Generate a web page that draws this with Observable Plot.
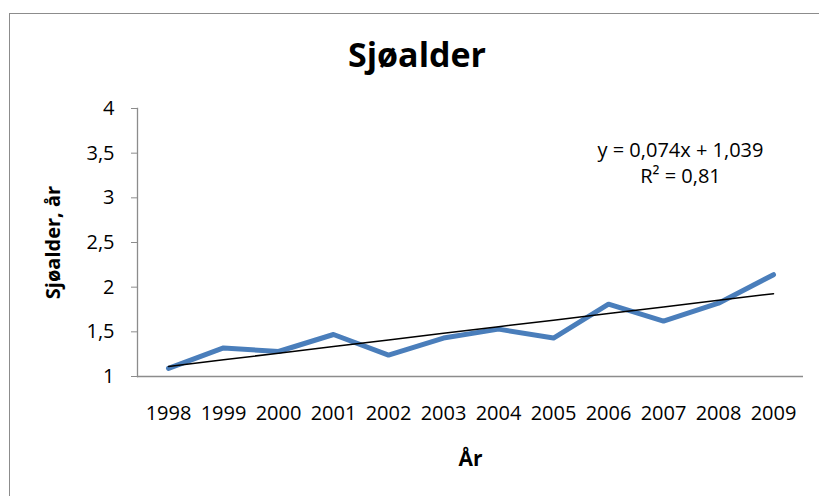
<!DOCTYPE html>
<html>
<head>
<meta charset="utf-8">
<script src="https://cdn.jsdelivr.net/npm/d3@7"></script>
<script src="https://cdn.jsdelivr.net/npm/@observablehq/plot@0.6"></script>
<style>
  html, body { margin: 0; padding: 0; background: #fff; overflow: hidden; }
  #wrap { position: relative; width: 819px; height: 496px; }
  #border { position: absolute; left: 9px; top: 13px; width: 900px; height: 600px; border: 1px solid #8c8c8c; box-sizing: border-box; }
  #title { position: absolute; left: 0; top: 32px; width: 834px; text-align: center; font-family: "Open Sans", sans-serif; font-weight: 700; font-size: 34px; color: #000; line-height: 1.3; }
  #chart { position: absolute; left: 0; top: 0; }
</style>
</head>
<body>
<div id="wrap">
  <div id="border"></div>
  <div id="title">Sjøalder</div>
  <div id="chart"></div>
</div>
<script>
const years = ["1998","1999","2000","2001","2002","2003","2004","2005","2006","2007","2008","2009"];
const values = [1.09, 1.32, 1.28, 1.47, 1.24, 1.43, 1.53, 1.43, 1.81, 1.62, 1.82, 2.14];
const trendSlope = 0.074;
const trendIntercept = 1.039;
const trendR2 = 0.81;
const yTicks = [1, 1.5, 2, 2.5, 3, 3.5, 4];
const yLabel = "Sjøalder, år";
const xLabel = "År";

const fmt = d => String(d).replace(".", ",");
const data = years.map((y, i) => ({year: y, value: values[i]}));
const trend = years.map((y, i) => ({year: y, value: trendIntercept + trendSlope * (i + 1)}));
const eqText = `y = ${fmt(trendSlope)}x + ${fmt(trendIntercept)}\nR² = ${fmt(trendR2)}`;

const axisColor = "#8c8c8c";
const font = "'Open Sans', sans-serif";

const chart = Plot.plot({
  width: 819,
  height: 496,
  marginLeft: 137,
  marginRight: 16,
  marginTop: 108,
  marginBottom: 120,
  style: {fontFamily: font, fontSize: "20px", color: "#000", background: "transparent", overflow: "visible"},
  x: {type: "point", domain: years, padding: 0.5, axis: null},
  y: {domain: [1, 4], axis: null},
  marks: [
    Plot.ruleY([1], {stroke: axisColor, strokeWidth: 1.3}),
    Plot.frame({anchor: "left", stroke: axisColor, strokeWidth: 1.3}),
    Plot.axisY(yTicks, {
      tickSize: 6, tickPadding: 17, tickFormat: fmt, stroke: axisColor,
      fill: "#000", fontSize: 20, label: null
    }),
    Plot.axisX(years, {
      tickSize: 0, tickPadding: 29, fill: "#000", fontSize: 20, label: null
    }),
    Plot.line(data, {x: "year", y: "value", stroke: "#4a7ebb", strokeWidth: 5, strokeLinejoin: "round", strokeLinecap: "round"}),
    Plot.line(trend, {x: "year", y: "value", stroke: "#000", strokeWidth: 1.5}),
    Plot.text([eqText], {
      frameAnchor: "top-right", dx: -123, dy: 30, textAnchor: "middle", lineAnchor: "top",
      lineHeight: 1.3, fontSize: 20, fill: "#000"
    }),
    Plot.text([yLabel], {
      frameAnchor: "left", dx: -84, rotate: -90, textAnchor: "middle",
      fontSize: 20, fontWeight: "bold", fill: "#000"
    }),
    Plot.text([xLabel], {
      frameAnchor: "bottom", dy: 75, textAnchor: "middle", lineAnchor: "top",
      fontSize: 21, fontWeight: "bold", fill: "#000"
    })
  ]
});
document.getElementById("chart").appendChild(chart);
</script>
</body>
</html>
